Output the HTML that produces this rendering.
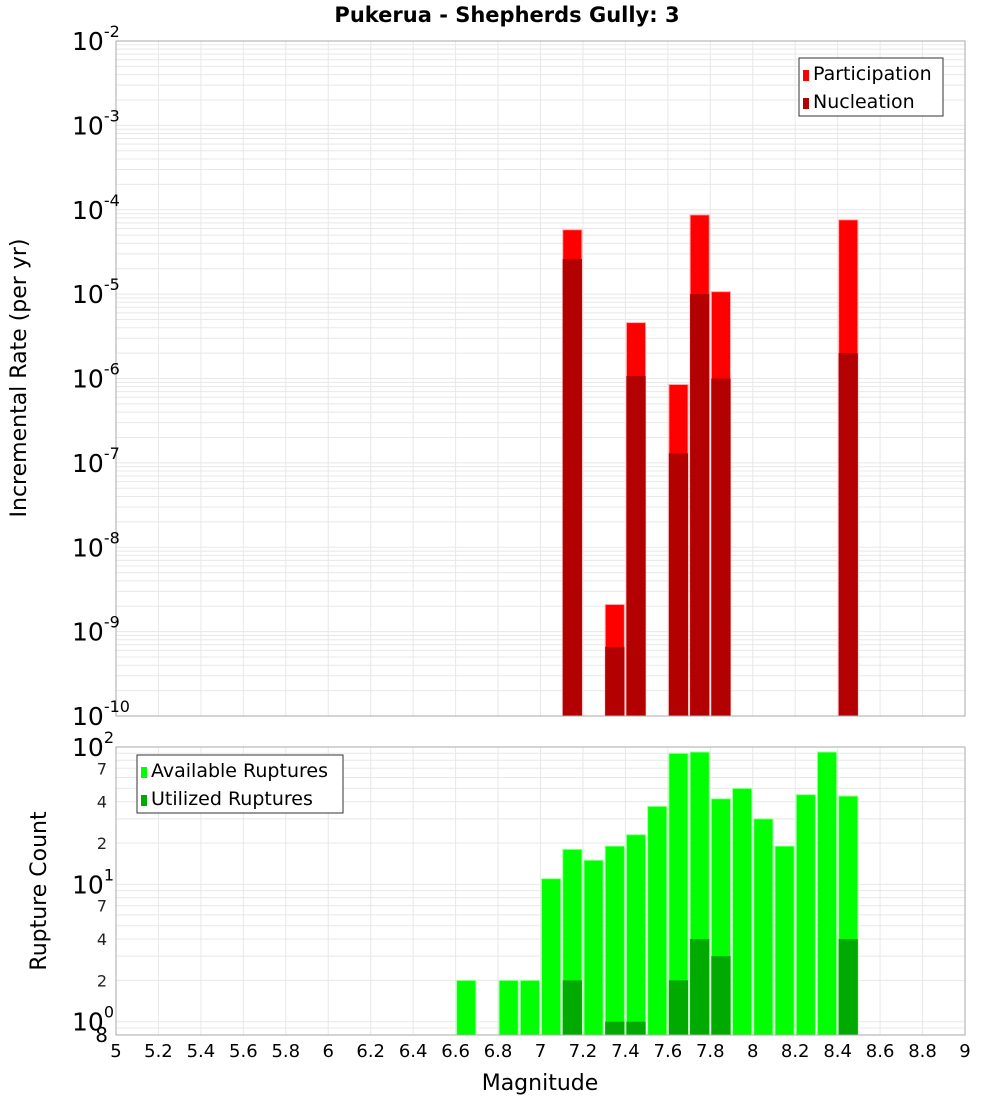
<!DOCTYPE html>
<html><head><meta charset="utf-8"><style>
body{margin:0;background:#fff;font-family:"Liberation Sans","DejaVu Sans",sans-serif;}
svg text{font-family:"DejaVu Sans","Liberation Sans",sans-serif;}
</style></head><body>
<svg id="chart" width="1000" height="1100" xmlns="http://www.w3.org/2000/svg">
<rect width="1000" height="1100" fill="#fff"/>
<text x="507" y="22" text-anchor="middle" font-size="21" font-weight="bold">Pukerua - Shepherds Gully: 3</text>
<g id="topg"></g>
<g id="botg"></g>
<text transform="translate(26,378) rotate(-90)" text-anchor="middle" font-size="22">Incremental Rate (per yr)</text>
<text transform="translate(46,891) rotate(-90)" text-anchor="middle" font-size="22">Rupture Count</text>
<text x="540" y="1090" text-anchor="middle" font-size="22">Magnitude</text>
</svg>
<script>
const mags=[7.15,7.35,7.45,7.65,7.75,7.85,8.45];
const participation=[5.8e-5,2.1e-9,4.6e-6,8.5e-7,8.7e-5,1.07e-5,7.6e-5];
const nucleation=[2.6e-5,6.6e-10,1.07e-6,1.3e-7,1.0e-5,1.0e-6,2.0e-6];
const cntMags=[6.65,6.85,6.95,7.05,7.15,7.25,7.35,7.45,7.55,7.65,7.75,7.85,7.95,8.05,8.15,8.25,8.35,8.45];
const available=[2,2,2,11,18,15,19,23,37,90,92,42,50,30,19,45,92,44];
const utilMags=[7.15,7.35,7.45,7.65,7.75,7.85,8.45];
const utilized=[2,1,1,2,4,3,4];
const xTicks=[5,5.2,5.4,5.6,5.8,6,6.2,6.4,6.6,6.8,7,7.2,7.4,7.6,7.8,8,8.2,8.4,8.6,8.8,9];
const topDecades=[-2,-3,-4,-5,-6,-7,-8,-9,-10];
const NS='http://www.w3.org/2000/svg';
const X0=116,X1=965;
const xs=m=>X0+(m-5)/4*(X1-X0);
const T0=41,T1=716, yt=v=>T0+(-2-Math.log10(v))/8*(T1-T0);
const B0=747,B1=1035,bmin=Math.log10(0.8), yb=v=>B0+(2-Math.log10(v))/(2-bmin)*(B1-B0);
function el(p,tag,a,txt){const e=document.createElementNS(NS,tag);for(const k in a)e.setAttribute(k,a[k]);if(txt!==undefined)e.textContent=txt;p.appendChild(e);return e;}
const gTop=document.getElementById('topg'),gBot=document.getElementById('botg');
for(const t of xTicks){for(const [g,a,b] of [[gTop,T0,T1],[gBot,B0,B1]]){const l=el(g,'line',{x1:xs(t),x2:xs(t),y1:a,y2:b,stroke:'#e8e8e8'});

}}
for(let d=-10;d<-2;d++)for(let k=1;k<10;k++){const y=yt(k*Math.pow(10,d));const l=el(gTop,'line',{x1:X0,x2:X1,y1:y,y2:y,stroke:'#e8e8e8'});

}
for(let d=-1;d<2;d++)for(let k=1;k<10;k++){const v=k*Math.pow(10,d);if(v<0.8)continue;const y=yb(v);const l=el(gBot,'line',{x1:X0,x2:X1,y1:y,y2:y,stroke:'#e8e8e8'});

}
const bw=(X1-X0)/40;
mags.forEach((m,i)=>{
 let r=el(gTop,'rect',{x:xs(m)-bw/2+1,y:yt(participation[i]),width:bw-2,height:T1-yt(participation[i]),fill:'#ff0000',stroke:'#ffb0b0','stroke-width':1});
 
 
 r=el(gTop,'rect',{x:xs(m)-bw/2+1,y:yt(nucleation[i]),width:bw-2,height:T1-yt(nucleation[i]),fill:'#b30000'});
 
 
});
cntMags.forEach((m,i)=>{
 const r=el(gBot,'rect',{x:xs(m)-bw/2+1,y:yb(available[i]),width:bw-2,height:B1-yb(available[i]),fill:'#00ff00',stroke:'#a0ffa0','stroke-width':1});
 
 
});
utilMags.forEach((m,i)=>{
 const r=el(gBot,'rect',{x:xs(m)-bw/2+1,y:yb(utilized[i]),width:bw-2,height:B1-yb(utilized[i]),fill:'#00aa00'});
 
 
});
el(gTop,'rect',{x:X0,y:T0,width:X1-X0,height:T1-T0,fill:'none',stroke:'#aaa'});
el(gBot,'rect',{x:X0,y:B0,width:X1-X0,height:B1-B0,fill:'none',stroke:'#aaa'});
topDecades.forEach(d=>{const y=yt(Math.pow(10,d));
 const t=el(gTop,'text',{x:72,y:y+9,'font-size':25});
 
 
 el(t,'tspan',{},'10');el(t,'tspan',{dy:-13,'font-size':16},String(d));});
[[100,'2'],[10,'1'],[1,'0']].forEach(([v,e])=>{const y=yb(v);
 const t=el(gBot,'text',{x:72,y:y+9,'font-size':25});
 
 
 el(t,'tspan',{},'10');el(t,'tspan',{dy:-13,'font-size':16},e);});
[7,4,2,70,40,20].forEach(v=>{const t=el(gBot,'text',{x:107,y:yb(v)+6,'font-size':16,'text-anchor':'end',fill:'#222'},String(v)[0]);
 
 });
{const t=el(gBot,'text',{x:108,y:1042,'font-size':20,'text-anchor':'end'},'8');}
xTicks.forEach(v=>{const t=el(gBot,'text',{x:xs(v),y:1057,'font-size':18,'text-anchor':'middle'},String(v));
 
 });
function legend(g,x,y,w,items,name){const lg=el(g,'g',{});
 el(lg,'rect',{x:x,y:y,width:w,height:58,fill:'#fff',stroke:'#333'});
 items.forEach(([c,s],i)=>{el(lg,'rect',{x:x+4,y:y+12+i*28,width:6,height:11,fill:c});
  const t=el(lg,'text',{x:x+14,y:y+22+i*28,'font-size':19},s);});}
legend(gTop,799,58,144,[['#ff0000','Participation'],['#b30000','Nucleation']],'rate-legend');
legend(gBot,137,755,206,[['#00ff00','Available Ruptures'],['#00aa00','Utilized Ruptures']],'count-legend');
</script>
</body></html>
